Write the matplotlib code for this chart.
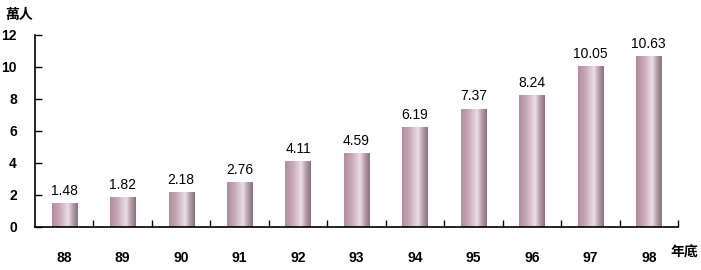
import matplotlib
matplotlib.use("Agg")
import matplotlib.pyplot as plt
import numpy as np
from matplotlib.colors import LinearSegmentedColormap

years = ["88", "89", "90", "91", "92", "93", "94", "95", "96", "97", "98"]
values = [1.48, 1.82, 2.18, 2.76, 4.11, 4.59, 6.19, 7.37, 8.24, 10.05, 10.63]
yticks = [0, 2, 4, 6, 8, 10, 12]

plt.rcParams['font.family'] = ['Liberation Sans', 'Noto Sans CJK TC', 'DejaVu Sans']

fig = plt.figure(figsize=(7.01, 2.70), dpi=100)
ax = fig.add_axes([35/701, 1-227/270, (678-35)/701, (227-35)/270])

cmap = LinearSegmentedColormap.from_list(
    "cyl", [(0.0, "#b08c9c"), (0.3, "#c8aab8"), (0.62, "#eadee5"), (0.8, "#b89fab"), (1.0, "#85707c")])
grad = np.linspace(0, 1, 256).reshape(1, -1)

w = 0.43
x = np.arange(len(years))
for xi, v in zip(x, values):
    ax.imshow(grad, cmap=cmap, aspect='auto', extent=(xi - w/2, xi + w/2, 0, v),
              interpolation='bilinear', zorder=2)
    ax.text(xi, v + 0.35, f"{v:.2f}", ha='center', va='bottom', fontsize=10, color='black')

ax.set_xlim(-0.5, len(years) - 0.5)
ax.set_ylim(0, 12)
ax.set_yticks(yticks)
ax.set_yticklabels([str(t) for t in yticks], fontsize=10, fontweight='bold')
ax.set_xticks(x)
ax.set_xticklabels(years, fontsize=10, fontweight='bold')
ax.set_xticks(np.arange(0.5, len(years) + 0.5, 1.0), minor=True)
ax.tick_params(axis='x', which='major', length=0, pad=17)
ax.tick_params(axis='x', which='minor', direction='in', length=5, width=1)
ax.tick_params(axis='y', direction='in', length=5, width=1, pad=13)

ax.spines['top'].set_visible(False)
ax.spines['right'].set_visible(False)
ax.spines['left'].set_linewidth(1.2)
ax.spines['bottom'].set_linewidth(1.2)

fig.text(5/701, 1-15/270, "萬人", fontsize=10, fontweight='bold', va='center', ha='left',
         family=['Noto Sans CJK TC', 'DejaVu Sans'])
fig.text(670/701, 1-253/270, "年底", fontsize=10, fontweight='bold', va='center', ha='left',
         family=['Noto Sans CJK TC', 'DejaVu Sans'])

fig.savefig("out.png", dpi=100)
